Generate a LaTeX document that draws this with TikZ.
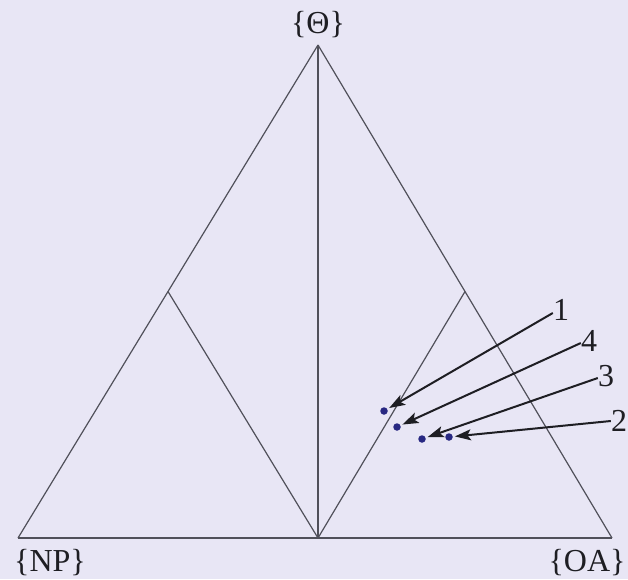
\documentclass[tikz,border=0pt]{standalone}
\usepackage{fontspec}
\setmainfont{Liberation Serif}
\usetikzlibrary{arrows.meta}
\definecolor{bgc}{RGB}{232,230,245}
\definecolor{edgec}{RGB}{80,80,90}
\definecolor{dotc}{RGB}{40,40,130}
\definecolor{arrc}{RGB}{30,30,35}
\tikzset{
  edge/.style={draw=edgec, line width=1.2pt},
  pt/.style={circle, fill=dotc, inner sep=0pt, minimum size=7.5pt},
  lab/.style={inner sep=0pt, font=\fontsize{32}{38}\selectfont, text=arrc},
  arr/.style={draw=arrc, line width=2pt, -{Stealth[length=16pt,width=11pt,inset=3.5pt]}, shorten >=2pt},
}
\begin{document}
\begin{tikzpicture}[x=1pt,y=-1pt]
\fill[bgc] (0,0) rectangle (628,579);
\useasboundingbox (0,0) rectangle (628,579);
% corners
\coordinate (A) at (318,45);
\coordinate (L) at (18,538);
\coordinate (R) at (612,538);
\coordinate (M) at (318,538);
\coordinate (ML) at (168,291.5);
\coordinate (MR) at (465,291.5);
\draw[edge] (A) -- (L);
\draw[edge] (A) -- (R);
\draw[edge] (L) -- (R);
\draw[edge] (A) -- (M);
\draw[edge] (M) -- (ML);
\draw[edge] (M) -- (MR);
% vertex labels
\node[lab, anchor=base] (th) at (318,33) {\{Θ\}};
\node[lab, anchor=base] (np) at (50,571) {\{NP\}};
\node[lab, anchor=base] (oa) at (587,571) {\{OA\}};
% points
\node[pt] (d1) at (384,411) {};
\node[pt] (d4) at (397,427) {};
\node[pt] (d3) at (422,439) {};
\node[pt] (d2) at (449,437) {};
% point labels
\node[lab] (l1) at (561,310) {1};
\node[lab] (l4) at (589,341) {4};
\node[lab] (l3) at (606,376) {3};
\node[lab] (l2) at (619,421) {2};
\draw[arr] (l1.west) ++(0,3) -- (d1);
\draw[arr] (l4.west) ++(0,2) -- (d4);
\draw[arr] (l3.west) ++(0,2) -- (d3);
\draw[arr] (l2.west) -- (d2);
\end{tikzpicture}
\end{document}
